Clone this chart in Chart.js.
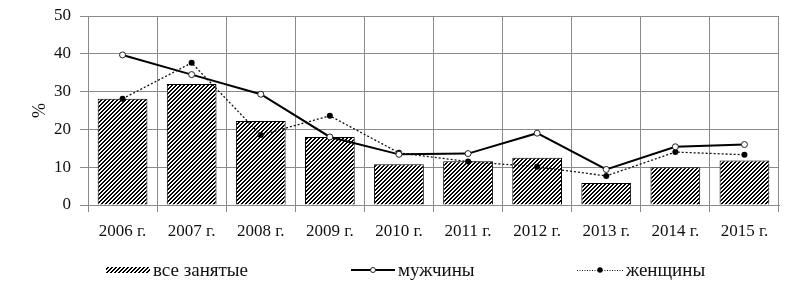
<!DOCTYPE html>
<html>
<head>
<meta charset="utf-8">
<script src="https://cdn.jsdelivr.net/npm/chart.js@4"></script>
<style>
  html, body { margin: 0; padding: 0; background: #fff; }
  #wrap { position: relative; width: 804px; height: 285px; }
  #c { position: absolute; left: 0; top: 0; }
  .lg { position: absolute; top: 259px; height: 22px; display: flex; align-items: center;
        font-family: 'Liberation Serif', 'Times New Roman', serif; font-size: 19px; color: #111; white-space: nowrap; }
  .lg canvas { margin-right: 3px; }
</style>
</head>
<body>
<div id="wrap">
  <canvas id="c" width="804" height="285"></canvas>
  <div class="lg" style="left:106px"><canvas id="i1" width="44" height="12"></canvas><span>все занятые</span></div>
  <div class="lg" style="left:351px"><canvas id="i2" width="44" height="12"></canvas><span>мужчины</span></div>
  <div class="lg" style="left:577px"><canvas id="i3" width="46" height="12"></canvas><span>женщины</span></div>
</div>
<script>
const categories = ['2006 г.', '2007 г.', '2008 г.', '2009 г.', '2010 г.', '2011 г.', '2012 г.', '2013 г.', '2014 г.', '2015 г.'];
const allEmployed = [28.1, 32.0, 22.2, 18.0, 10.8, 11.6, 12.5, 5.8, 10.0, 11.8];
const men = [39.7, 34.5, 29.3, 18.0, 13.4, 13.6, 19.0, 9.4, 15.4, 16.0];
const women = [28.1, 37.6, 18.5, 23.6, 13.8, 11.5, 10.1, 7.7, 14.0, 13.3];
const yTicks = [0, 10, 20, 30, 40, 50];
const seriesNames = ['все занятые', 'мужчины', 'женщины'];

function makeHatch() {
  const p = document.createElement('canvas');
  p.width = 4; p.height = 4;
  const g = p.getContext('2d');
  g.fillStyle = '#fff'; g.fillRect(0, 0, 4, 4);
  g.fillStyle = '#000';
  for (let x = 0; x < 4; x++) for (let y = 0; y < 4; y++) {
    if (((x + y) % 4) < 2) g.fillRect(x, y, 1, 1);
  }
  return p;
}
const hatchCanvas = makeHatch();
const ctx = document.getElementById('c').getContext('2d');
const hatch = ctx.createPattern(hatchCanvas, 'repeat');

const FONT = { family: "'Liberation Serif', 'Times New Roman', serif", size: 17 };
const GRID = '#8a8a8a';

new Chart(ctx, {
  data: {
    labels: categories,
    datasets: [
      { type: 'line', label: seriesNames[1], data: men, borderColor: '#000', borderWidth: 2,
        pointStyle: 'circle', pointRadius: 3, pointBackgroundColor: '#fff', pointBorderColor: '#222',
        pointBorderWidth: 1, tension: 0, order: 1 },
      { type: 'line', label: seriesNames[2], data: women, borderColor: '#111', borderWidth: 1.3,
        borderDash: [2, 2], pointStyle: 'circle', pointRadius: 3, pointBackgroundColor: '#000',
        pointBorderColor: '#000', pointBorderWidth: 0, tension: 0, order: 2 },
      { type: 'bar', label: seriesNames[0], data: allEmployed, backgroundColor: hatch,
        borderColor: '#000', borderWidth: 1, categoryPercentage: 1, barPercentage: 0.72, order: 3 }
    ]
  },
  options: {
    responsive: false,
    animation: false,
    events: [],
    layout: { padding: { top: 16, right: 25, bottom: 0, left: 0 } },
    plugins: { legend: { display: false }, tooltip: { enabled: false } },
    scales: {
      x: {
        offset: true,
        grid: { color: GRID, lineWidth: 1, offset: true, drawTicks: true, tickLength: 7, tickColor: GRID },
        border: { color: GRID, width: 1 },
        ticks: { font: FONT, color: '#111', padding: 9, maxRotation: 0, autoSkip: false },
        afterFit: s => { s.height = 80; }
      },
      y: {
        min: 0, max: 50,
        afterBuildTicks: s => { s.ticks = yTicks.map(v => ({ value: v })); },
        grid: { color: GRID, lineWidth: 1, drawTicks: true, tickLength: 8, tickColor: GRID },
        border: { color: GRID, width: 1 },
        ticks: { font: { family: FONT.family, size: 17, lineHeight: 0.7 }, color: '#111', padding: 9 },
        title: { display: true, text: '%', font: { family: FONT.family, size: 18 }, color: '#111', padding: { top: 29, bottom: 0 } },
        afterFit: s => { s.width = 88; }
      }
    }
  }
});

// legend icons
(function () {
  const a = document.getElementById('i1').getContext('2d');
  a.fillStyle = a.createPattern(hatchCanvas, 'repeat');
  a.fillRect(0, 3, 44, 6);
  const b = document.getElementById('i2').getContext('2d');
  b.strokeStyle = '#000'; b.lineWidth = 1.8;
  b.beginPath(); b.moveTo(0, 6); b.lineTo(44, 6); b.stroke();
  b.fillStyle = '#fff'; b.lineWidth = 1; b.strokeStyle = '#222';
  b.beginPath(); b.arc(22, 6, 2.5, 0, Math.PI * 2); b.fill(); b.stroke();
  const c = document.getElementById('i3').getContext('2d');
  c.strokeStyle = '#111'; c.lineWidth = 1; c.setLineDash([1, 1.5]);
  c.beginPath(); c.moveTo(0, 6.5); c.lineTo(46, 6.5); c.stroke();
  c.setLineDash([]); c.fillStyle = '#000';
  c.beginPath(); c.arc(23, 6, 2.7, 0, Math.PI * 2); c.fill();
})();
</script>
</body>
</html>
